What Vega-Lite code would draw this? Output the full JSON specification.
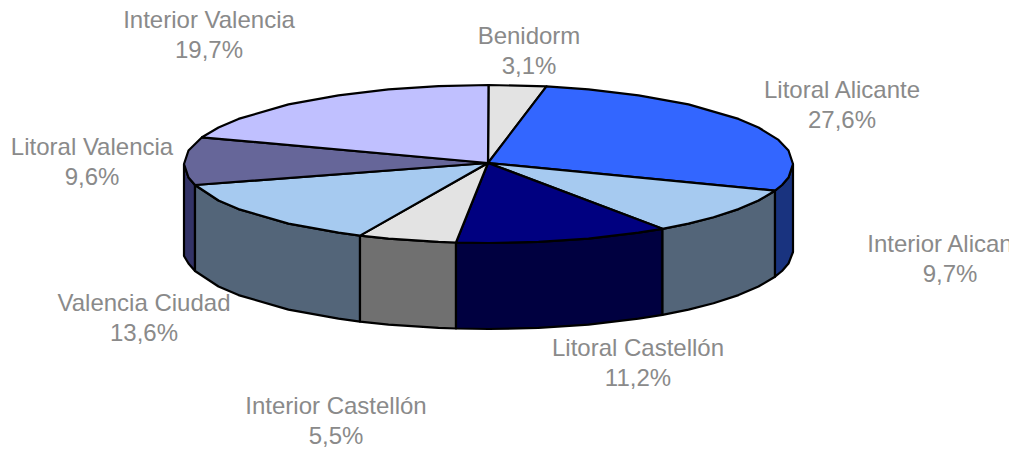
{"$schema":"https://vega.github.io/schema/vega-lite/v6.json","width":1009,"height":454,"padding":0,"autosize":{"type":"none"},"background":"white","view":{"stroke":null},
"datasets":{
"walls":[
{"part":"Litoral Valencia","i":1,"x":184,"y":164},{"part":"Litoral Valencia","i":2,"x":188.5,"y":177.5},{"part":"Litoral Valencia","i":3,"x":195,"y":185},{"part":"Litoral Valencia","i":4,"x":195,"y":271},{"part":"Litoral Valencia","i":5,"x":188.5,"y":263.5},{"part":"Litoral Valencia","i":6,"x":184,"y":256},{"part":"Litoral Valencia","i":7,"x":184,"y":164},
{"part":"Valencia Ciudad","i":1,"x":195,"y":185},{"part":"Valencia Ciudad","i":2,"x":218.5,"y":200.5},{"part":"Valencia Ciudad","i":3,"x":238.5,"y":209.1},{"part":"Valencia Ciudad","i":4,"x":288.5,"y":223.6},{"part":"Valencia Ciudad","i":5,"x":338.5,"y":232.7},{"part":"Valencia Ciudad","i":6,"x":360,"y":235.6},{"part":"Valencia Ciudad","i":7,"x":360,"y":321.6},{"part":"Valencia Ciudad","i":8,"x":338.5,"y":318.7},{"part":"Valencia Ciudad","i":9,"x":288.5,"y":309.6},{"part":"Valencia Ciudad","i":10,"x":238.5,"y":295.1},{"part":"Valencia Ciudad","i":11,"x":218.5,"y":286.5},{"part":"Valencia Ciudad","i":12,"x":195,"y":271},{"part":"Valencia Ciudad","i":13,"x":195,"y":185},
{"part":"Interior Castellón","i":1,"x":360,"y":235.6},{"part":"Interior Castellón","i":2,"x":388.5,"y":238.6},{"part":"Interior Castellón","i":3,"x":438.5,"y":241.9},{"part":"Interior Castellón","i":4,"x":456,"y":242.5},{"part":"Interior Castellón","i":5,"x":456,"y":328.5},{"part":"Interior Castellón","i":6,"x":438.5,"y":327.9},{"part":"Interior Castellón","i":7,"x":388.5,"y":324.6},{"part":"Interior Castellón","i":8,"x":360,"y":321.6},{"part":"Interior Castellón","i":9,"x":360,"y":235.6},
{"part":"Litoral Castellón","i":1,"x":456,"y":242.5},{"part":"Litoral Castellón","i":2,"x":488.5,"y":243},{"part":"Litoral Castellón","i":3,"x":538.5,"y":241.9},{"part":"Litoral Castellón","i":4,"x":588.5,"y":238.6},{"part":"Litoral Castellón","i":5,"x":638.5,"y":232.7},{"part":"Litoral Castellón","i":6,"x":662.5,"y":228.8},{"part":"Litoral Castellón","i":7,"x":662.5,"y":314.8},{"part":"Litoral Castellón","i":8,"x":638.5,"y":318.7},{"part":"Litoral Castellón","i":9,"x":588.5,"y":324.6},{"part":"Litoral Castellón","i":10,"x":538.5,"y":327.9},{"part":"Litoral Castellón","i":11,"x":488.5,"y":329},{"part":"Litoral Castellón","i":12,"x":456,"y":328.5},{"part":"Litoral Castellón","i":13,"x":456,"y":242.5},
{"part":"Interior Alicante","i":1,"x":662.5,"y":228.8},{"part":"Interior Alicante","i":2,"x":688.5,"y":223.6},{"part":"Interior Alicante","i":3,"x":713.5,"y":217.2},{"part":"Interior Alicante","i":4,"x":738.5,"y":209.1},{"part":"Interior Alicante","i":5,"x":758.5,"y":200.5},{"part":"Interior Alicante","i":6,"x":775,"y":190.7},{"part":"Interior Alicante","i":7,"x":775,"y":276.7},{"part":"Interior Alicante","i":8,"x":758.5,"y":286.5},{"part":"Interior Alicante","i":9,"x":738.5,"y":295.1},{"part":"Interior Alicante","i":10,"x":713.5,"y":303.2},{"part":"Interior Alicante","i":11,"x":688.5,"y":309.6},{"part":"Interior Alicante","i":12,"x":662.5,"y":314.8},{"part":"Interior Alicante","i":13,"x":662.5,"y":228.8},
{"part":"Litoral Alicante","i":1,"x":775,"y":190.7},{"part":"Litoral Alicante","i":2,"x":782,"y":185},{"part":"Litoral Alicante","i":3,"x":788.5,"y":177.5},{"part":"Litoral Alicante","i":4,"x":793,"y":164},{"part":"Litoral Alicante","i":5,"x":793,"y":252},{"part":"Litoral Alicante","i":6,"x":788.5,"y":263.5},{"part":"Litoral Alicante","i":7,"x":782,"y":271},{"part":"Litoral Alicante","i":8,"x":775,"y":276.7},{"part":"Litoral Alicante","i":9,"x":775,"y":190.7}
],
"tops":[
{"part":"Benidorm","i":1,"x":488,"y":163},{"part":"Benidorm","i":2,"x":488.5,"y":85},{"part":"Benidorm","i":3,"x":546.5,"y":86.4},{"part":"Benidorm","i":4,"x":488,"y":163},
{"part":"Litoral Alicante","i":1,"x":488,"y":163},{"part":"Litoral Alicante","i":2,"x":546.5,"y":86.4},{"part":"Litoral Alicante","i":3,"x":588.5,"y":89.4},{"part":"Litoral Alicante","i":4,"x":638.5,"y":95.3},{"part":"Litoral Alicante","i":5,"x":688.5,"y":104.4},{"part":"Litoral Alicante","i":6,"x":738.5,"y":118.9},{"part":"Litoral Alicante","i":7,"x":758.5,"y":127.5},{"part":"Litoral Alicante","i":8,"x":778.5,"y":139.9},{"part":"Litoral Alicante","i":9,"x":788.5,"y":150.5},{"part":"Litoral Alicante","i":10,"x":793,"y":164},{"part":"Litoral Alicante","i":11,"x":788.5,"y":177.5},{"part":"Litoral Alicante","i":12,"x":782,"y":185},{"part":"Litoral Alicante","i":13,"x":775,"y":190.7},{"part":"Litoral Alicante","i":14,"x":488,"y":163},
{"part":"Interior Alicante","i":1,"x":488,"y":163},{"part":"Interior Alicante","i":2,"x":775,"y":190.7},{"part":"Interior Alicante","i":3,"x":758.5,"y":200.5},{"part":"Interior Alicante","i":4,"x":738.5,"y":209.1},{"part":"Interior Alicante","i":5,"x":713.5,"y":217.2},{"part":"Interior Alicante","i":6,"x":688.5,"y":223.6},{"part":"Interior Alicante","i":7,"x":662.5,"y":228.8},{"part":"Interior Alicante","i":8,"x":488,"y":163},
{"part":"Litoral Castellón","i":1,"x":488,"y":163},{"part":"Litoral Castellón","i":2,"x":662.5,"y":228.8},{"part":"Litoral Castellón","i":3,"x":638.5,"y":232.7},{"part":"Litoral Castellón","i":4,"x":588.5,"y":238.6},{"part":"Litoral Castellón","i":5,"x":538.5,"y":241.9},{"part":"Litoral Castellón","i":6,"x":488.5,"y":243},{"part":"Litoral Castellón","i":7,"x":456,"y":242.5},{"part":"Litoral Castellón","i":8,"x":488,"y":163},
{"part":"Interior Castellón","i":1,"x":488,"y":163},{"part":"Interior Castellón","i":2,"x":456,"y":242.5},{"part":"Interior Castellón","i":3,"x":438.5,"y":241.9},{"part":"Interior Castellón","i":4,"x":388.5,"y":238.6},{"part":"Interior Castellón","i":5,"x":360,"y":235.6},{"part":"Interior Castellón","i":6,"x":488,"y":163},
{"part":"Valencia Ciudad","i":1,"x":488,"y":163},{"part":"Valencia Ciudad","i":2,"x":360,"y":235.6},{"part":"Valencia Ciudad","i":3,"x":338.5,"y":232.7},{"part":"Valencia Ciudad","i":4,"x":288.5,"y":223.6},{"part":"Valencia Ciudad","i":5,"x":238.5,"y":209.1},{"part":"Valencia Ciudad","i":6,"x":218.5,"y":200.5},{"part":"Valencia Ciudad","i":7,"x":195,"y":185},{"part":"Valencia Ciudad","i":8,"x":488,"y":163},
{"part":"Litoral Valencia","i":1,"x":488,"y":163},{"part":"Litoral Valencia","i":2,"x":195,"y":185},{"part":"Litoral Valencia","i":3,"x":188.5,"y":177.5},{"part":"Litoral Valencia","i":4,"x":184,"y":164},{"part":"Litoral Valencia","i":5,"x":188.5,"y":150.5},{"part":"Litoral Valencia","i":6,"x":202,"y":137.3},{"part":"Litoral Valencia","i":7,"x":488,"y":163},
{"part":"Interior Valencia","i":1,"x":488,"y":163},{"part":"Interior Valencia","i":2,"x":202,"y":137.3},{"part":"Interior Valencia","i":3,"x":218.5,"y":127.5},{"part":"Interior Valencia","i":4,"x":238.5,"y":118.9},{"part":"Interior Valencia","i":5,"x":288.5,"y":104.4},{"part":"Interior Valencia","i":6,"x":338.5,"y":95.3},{"part":"Interior Valencia","i":7,"x":388.5,"y":89.4},{"part":"Interior Valencia","i":8,"x":438.5,"y":86.1},{"part":"Interior Valencia","i":9,"x":488.5,"y":85},{"part":"Interior Valencia","i":10,"x":488,"y":163}
],
"labels":[
{"name":"Interior Valencia","pct":"19,7%","x":209,"y":28},
{"name":"Benidorm","pct":"3,1%","x":529,"y":44},
{"name":"Litoral Alicante","pct":"27,6%","x":842,"y":98},
{"name":"Interior Alicante","pct":"9,7%","x":950,"y":252},
{"name":"Litoral Valencia","pct":"9,6%","x":92,"y":155},
{"name":"Valencia Ciudad","pct":"13,6%","x":144,"y":311},
{"name":"Litoral Castellón","pct":"11,2%","x":638,"y":356},
{"name":"Interior Castellón","pct":"5,5%","x":336,"y":414}
]},
"layer":[
{"data":{"name":"walls"},"mark":{"type":"line","filled":true,"stroke":"black","strokeWidth":2.2,"strokeJoin":"round","interpolate":"linear"},
"encoding":{"x":{"field":"x","type":"quantitative","scale":{"domain":[0,1009]},"axis":null},"y":{"field":"y","type":"quantitative","scale":{"domain":[454,0]},"axis":null},"order":{"field":"i","type":"quantitative"},
"color":{"field":"part","type":"nominal","legend":null,"scale":{"domain":["Litoral Valencia","Valencia Ciudad","Interior Castellón","Litoral Castellón","Interior Alicante","Litoral Alicante"],"range":["#333366","#536579","#707070","#000040","#536579","#19337F"]}}}},
{"data":{"name":"tops"},"mark":{"type":"line","filled":true,"stroke":"black","strokeWidth":2.2,"strokeJoin":"round","interpolate":"linear"},
"encoding":{"x":{"field":"x","type":"quantitative","scale":{"domain":[0,1009]},"axis":null},"y":{"field":"y","type":"quantitative","scale":{"domain":[454,0]},"axis":null},"order":{"field":"i","type":"quantitative"},
"fill":{"field":"part","type":"nominal","legend":null,"scale":{"domain":["Benidorm","Litoral Alicante","Interior Alicante","Litoral Castellón","Interior Castellón","Valencia Ciudad","Litoral Valencia","Interior Valencia"],"range":["#E3E3E3","#3366FF","#A6CAF0","#000080","#E3E3E3","#A6CAF0","#666699","#C0C0FF"]}}}},
{"data":{"name":"labels"},"mark":{"type":"text","font":"Liberation Sans","fontSize":24,"color":"#8a8a8a","align":"center","baseline":"alphabetic","clip":true},
"encoding":{"x":{"field":"x","type":"quantitative","scale":{"domain":[0,1009]},"axis":null},"y":{"field":"y","type":"quantitative","scale":{"domain":[454,0]},"axis":null},"text":{"field":"name","type":"nominal"}}},
{"data":{"name":"labels"},"mark":{"type":"text","font":"Liberation Sans","fontSize":24,"color":"#8a8a8a","align":"center","baseline":"alphabetic","dy":30,"clip":true},
"encoding":{"x":{"field":"x","type":"quantitative","scale":{"domain":[0,1009]},"axis":null},"y":{"field":"y","type":"quantitative","scale":{"domain":[454,0]},"axis":null},"text":{"field":"pct","type":"nominal"}}}
],
"resolve":{"scale":{"color":"independent","fill":"independent"}}
}
